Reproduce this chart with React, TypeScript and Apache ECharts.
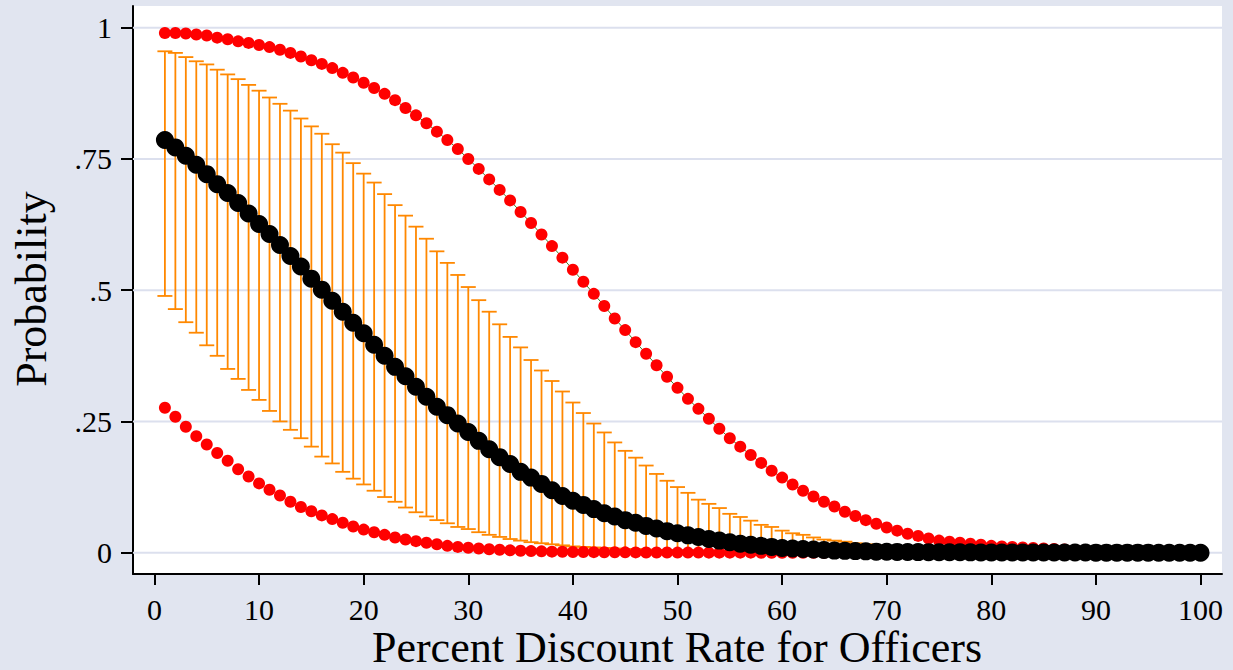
import React, { useEffect, useRef } from "react";
import * as echarts from "echarts";

// Discount rate (percent) for each estimate
const discountRates: number[] = Array.from({ length: 100 }, (_, i) => i + 1);

// Predicted probability
const predicted: number[] = [
  0.786, 0.772, 0.756, 0.739, 0.721, 0.702, 0.685, 0.666, 0.646, 0.626,
  0.607, 0.586, 0.565, 0.545, 0.522, 0.501, 0.48, 0.459, 0.438, 0.418,
  0.396, 0.375, 0.354, 0.336, 0.316, 0.297, 0.278, 0.262, 0.246, 0.23,
  0.213, 0.197, 0.182, 0.169, 0.154, 0.143, 0.131, 0.119, 0.108, 0.099,
  0.091, 0.083, 0.075, 0.069, 0.062, 0.057, 0.051, 0.046, 0.041, 0.037,
  0.033, 0.03, 0.026, 0.023, 0.02, 0.017, 0.015, 0.013, 0.011, 0.009,
  0.008, 0.007, 0.006, 0.005, 0.004, 0.0035, 0.003, 0.0025, 0.002, 0.0018,
  0.0015, 0.0013, 0.0011, 0.001, 0.0009, 0.0008, 0.0007, 0.0006, 0.0005, 0.0005,
  0.0004, 0.0004, 0.0003, 0.0003, 0.0003, 0.0002, 0.0002, 0.0002, 0.0002, 0.0001,
  0.0001, 0.0001, 0.0001, 0.0001, 0.0001, 0.0, 0.0, 0.0, 0.0, 0.0,
];

// Outer band: upper bound
const outerUpper: number[] = [
  0.99, 0.99, 0.989, 0.987, 0.985, 0.981, 0.978, 0.974, 0.971, 0.967,
  0.963, 0.958, 0.952, 0.945, 0.938, 0.931, 0.923, 0.914, 0.905, 0.895,
  0.885, 0.874, 0.862, 0.847, 0.833, 0.818, 0.802, 0.786, 0.769, 0.75,
  0.731, 0.711, 0.691, 0.671, 0.649, 0.628, 0.606, 0.584, 0.562, 0.539,
  0.516, 0.493, 0.47, 0.446, 0.424, 0.401, 0.379, 0.357, 0.335, 0.314,
  0.293, 0.274, 0.255, 0.236, 0.218, 0.202, 0.186, 0.171, 0.156, 0.143,
  0.13, 0.118, 0.107, 0.097, 0.088, 0.078, 0.07, 0.062, 0.055, 0.048,
  0.042, 0.036, 0.032, 0.027, 0.023, 0.021, 0.019, 0.017, 0.015, 0.013,
  0.012, 0.011, 0.01, 0.009, 0.008, 0.007, 0.006, 0.005, 0.004, 0.004,
  0.003, 0.003, 0.002, 0.002, 0.002, 0.001, 0.001, 0.001, 0.001, 0.001,
];

// Outer band: lower bound
const outerLower: number[] = [
  0.276, 0.259, 0.24, 0.222, 0.206, 0.19, 0.175, 0.159, 0.145, 0.132,
  0.12, 0.109, 0.097, 0.087, 0.079, 0.071, 0.064, 0.057, 0.05, 0.044,
  0.039, 0.034, 0.029, 0.025, 0.022, 0.019, 0.016, 0.013, 0.011, 0.0095,
  0.008, 0.0065, 0.0055, 0.0045, 0.0038, 0.003, 0.0025, 0.002, 0.0017, 0.0014,
  0.0012, 0.001, 0.0008, 0.0007, 0.0006, 0.0005, 0.0004, 0.0003, 0.0003, 0.0002,
  0.0002, 0.0002, 0.0001, 0.0001, 0.0001, 0.0001, 0.0001, 0.0, 0.0, 0.0,
  0.0, 0.0, 0.0, 0.0, 0.0, 0.0, 0.0, 0.0, 0.0, 0.0,
  0.0, 0.0, 0.0, 0.0, 0.0, 0.0, 0.0, 0.0, 0.0, 0.0,
  0.0, 0.0, 0.0, 0.0, 0.0, 0.0, 0.0, 0.0, 0.0, 0.0,
  0.0, 0.0, 0.0, 0.0, 0.0, 0.0, 0.0, 0.0, 0.0, 0.0,
];

// Capped interval: upper end
const capUpper: number[] = [
  0.955, 0.952, 0.944, 0.936, 0.93, 0.92, 0.911, 0.902, 0.891, 0.88,
  0.867, 0.855, 0.842, 0.827, 0.812, 0.798, 0.778, 0.762, 0.742, 0.722,
  0.705, 0.683, 0.662, 0.642, 0.621, 0.598, 0.574, 0.552, 0.529, 0.506,
  0.481, 0.459, 0.435, 0.411, 0.391, 0.367, 0.347, 0.327, 0.307, 0.286,
  0.266, 0.246, 0.229, 0.21, 0.194, 0.181, 0.166, 0.15, 0.137, 0.125,
  0.114, 0.101, 0.093, 0.085, 0.074, 0.068, 0.061, 0.053, 0.049, 0.042,
  0.037, 0.034, 0.029, 0.025, 0.023, 0.021, 0.018, 0.016, 0.014, 0.012,
  0.01, 0.009, 0.008, 0.007, 0.006, 0.005, 0.004, 0.004, 0.003, 0.003,
  0.002, 0.002, 0.002, 0.002, 0.001, 0.001, 0.001, 0.001, 0.001, 0.001,
  0.001, 0.0, 0.0, 0.0, 0.0, 0.0, 0.0, 0.0, 0.0, 0.0,
];

// Capped interval: lower end
const capLower: number[] = [
  0.489, 0.464, 0.439, 0.419, 0.395, 0.375, 0.35, 0.331, 0.31, 0.291,
  0.27, 0.25, 0.234, 0.218, 0.202, 0.183, 0.17, 0.154, 0.141, 0.13,
  0.118, 0.106, 0.097, 0.086, 0.077, 0.069, 0.062, 0.056, 0.049, 0.045,
  0.039, 0.034, 0.03, 0.026, 0.023, 0.02, 0.018, 0.016, 0.014, 0.012,
  0.011, 0.01, 0.009, 0.008, 0.007, 0.007, 0.006, 0.005, 0.005, 0.004,
  0.004, 0.003, 0.003, 0.003, 0.002, 0.002, 0.002, 0.002, 0.001, 0.001,
  0.001, 0.001, 0.001, 0.001, 0.0, 0.0, 0.0, 0.0, 0.0, 0.0,
  0.0, 0.0, 0.0, 0.0, 0.0, 0.0, 0.0, 0.0, 0.0, 0.0,
  0.0, 0.0, 0.0, 0.0, 0.0, 0.0, 0.0, 0.0, 0.0, 0.0,
  0.0, 0.0, 0.0, 0.0, 0.0, 0.0, 0.0, 0.0, 0.0, 0.0,
];

const xTicks: number[] = [0, 10, 20, 30, 40, 50, 60, 70, 80, 90, 100];
const yTicks: number[] = [0, 0.25, 0.5, 0.75, 1];
const yTickLabels: string[] = ["0", ".25", ".5", ".75", "1"];

const xTitle = "Percent Discount Rate for Officers";
const yTitle = "Probability";

const X_MIN = -2.05;
const X_MAX = 102.05;
const Y_MIN = -0.0406;
const Y_MAX = 1.0413;

const SERIF = "'Liberation Serif', 'Times New Roman', serif";
const PAGE_BG = "#E1E5F0";
const GRID_COLOR = "#DCE0EE";
const ORANGE = "#FF8800";

export default function App() {
  const ref = useRef<HTMLDivElement>(null);

  useEffect(() => {
    if (!ref.current) return;
    const chart = echarts.init(ref.current, undefined, { renderer: "svg" });

    const pairs = (ys: number[]) => discountRates.map((x, i) => [x, ys[i]]);
    const capData = discountRates.map((x, i) => [x, capLower[i], capUpper[i]]);

    // horizontal grid lines, one line series per y tick
    const gridSeries = yTicks.map((v) => ({
      type: "line",
      data: [
        [X_MIN, v],
        [X_MAX, v],
      ],
      symbol: "none",
      silent: true,
      lineStyle: { color: GRID_COLOR, width: 2 },
      z: 1,
    }));

    const dot = (color: string) => ({ color, opacity: 1, borderWidth: 0 });

    const option: any = {
      animation: false,
      backgroundColor: PAGE_BG,
      grid: {
        left: 133,
        top: 6,
        width: 1089,
        height: 568,
        show: true,
        backgroundColor: "#FFFFFF",
        borderWidth: 0,
        containLabel: false,
      },
      xAxis: {
        type: "value",
        min: X_MIN,
        max: X_MAX,
        splitLine: { show: false },
        axisLine: { show: true, onZero: false, lineStyle: { color: "#000", width: 2 } },
        axisTick: {
          show: true,
          length: 11,
          customValues: xTicks,
          lineStyle: { color: "#000", width: 2 },
        },
        axisLabel: {
          customValues: xTicks,
          margin: 20,
          fontFamily: SERIF,
          fontSize: 30,
          color: "#000",
          formatter: (v: number) => String(v),
        },
      },
      yAxis: {
        type: "value",
        min: Y_MIN,
        max: Y_MAX,
        splitLine: { show: false },
        axisLine: { show: true, onZero: false, lineStyle: { color: "#000", width: 2 } },
        axisTick: {
          show: true,
          length: 12,
          customValues: yTicks,
          lineStyle: { color: "#000", width: 2 },
        },
        axisLabel: {
          customValues: yTicks,
          margin: 21,
          fontFamily: SERIF,
          fontSize: 30,
          color: "#000",
          formatter: (v: number) => {
            const idx = yTicks.findIndex((t) => Math.abs(t - v) < 1e-9);
            return idx >= 0 ? yTickLabels[idx] : "";
          },
        },
      },
      graphic: [
        {
          type: "text",
          x: 677,
          y: 647,
          style: {
            text: xTitle,
            font: `44px ${SERIF}`,
            fill: "#000",
            textAlign: "center",
            textVerticalAlign: "middle",
          },
        },
        {
          type: "text",
          x: 31,
          y: 289,
          rotation: Math.PI / 2,
          style: {
            text: yTitle,
            font: `44px ${SERIF}`,
            fill: "#000",
            textAlign: "center",
            textVerticalAlign: "middle",
          },
        },
      ],
      series: [
        ...gridSeries,
        {
          type: "custom",
          name: "interval",
          z: 2,
          data: capData,
          renderItem: (params: any, api: any) => {
            const x = api.value(0);
            const lo = api.coord([x, api.value(1)]);
            const hi = api.coord([x, api.value(2)]);
            const half = 7.5;
            const style = { stroke: ORANGE, lineWidth: 1.8, fill: "none" };
            return {
              type: "group",
              children: [
                { type: "line", shape: { x1: hi[0], y1: hi[1], x2: lo[0], y2: lo[1] }, style },
                { type: "line", shape: { x1: hi[0] - half, y1: hi[1], x2: hi[0] + half, y2: hi[1] }, style },
                { type: "line", shape: { x1: lo[0] - half, y1: lo[1], x2: lo[0] + half, y2: lo[1] }, style },
              ],
            };
          },
        },
        {
          type: "line",
          name: "upper-link",
          z: 3,
          data: pairs(outerUpper),
          symbol: "none",
          silent: true,
          lineStyle: { color: "#3F7F2A", width: 1 },
        },
        {
          type: "scatter",
          name: "upper",
          z: 4,
          data: pairs(outerUpper),
          symbol: "circle",
          symbolSize: 12,
          itemStyle: dot("#FF0000"),
        },
        {
          type: "scatter",
          name: "lower",
          z: 4,
          data: pairs(outerLower),
          symbol: "circle",
          symbolSize: 12,
          itemStyle: dot("#FF0000"),
        },
        {
          type: "scatter",
          name: "predicted",
          z: 5,
          data: pairs(predicted),
          symbol: "circle",
          symbolSize: 18,
          itemStyle: dot("#000000"),
        },
      ],
    };

    chart.setOption(option);
    return () => {
      chart.dispose();
    };
  }, []);

  return (
    <div
      ref={ref}
      style={{ position: "fixed", left: 0, top: 0, width: 1233, height: 670 }}
    />
  );
}
